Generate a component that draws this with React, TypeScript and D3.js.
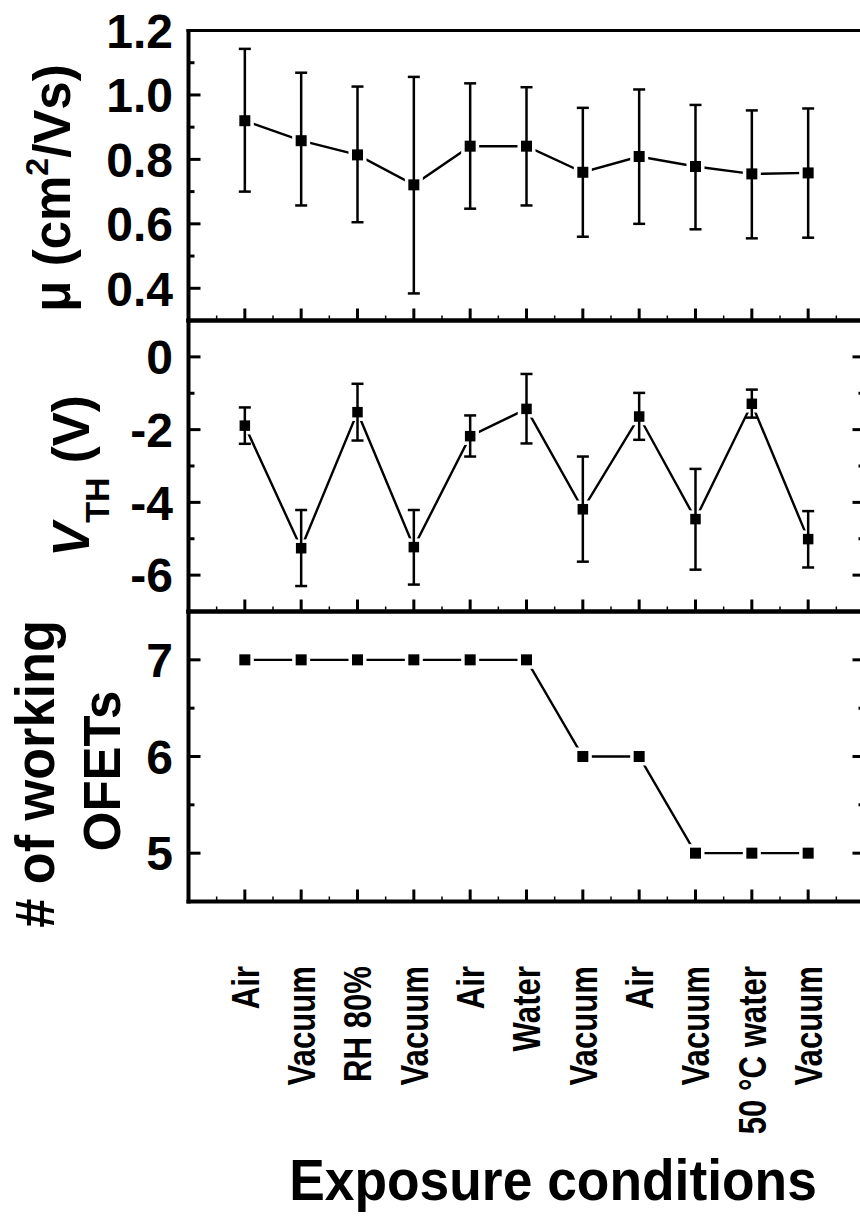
import React from "react";
import * as d3 from "d3";

const conditions = ["Air", "Vacuum", "RH 80%", "Vacuum", "Air", "Water", "Vacuum", "Air", "Vacuum", "50 °C water", "Vacuum"];

const mobility = [0.92, 0.858, 0.814, 0.721, 0.841, 0.841, 0.76, 0.809, 0.778, 0.755, 0.758];
const mobilityHigh = [1.143, 1.069, 1.026, 1.056, 1.036, 1.024, 0.96, 1.017, 0.969, 0.952, 0.958];
const mobilityLow = [0.7, 0.657, 0.605, 0.384, 0.647, 0.657, 0.56, 0.6, 0.583, 0.555, 0.557];

const vth = [-1.89, -5.26, -1.52, -5.23, -2.18, -1.43, -4.19, -1.64, -4.46, -1.29, -5.01];
const vthHigh = [-1.39, -4.21, -0.74, -4.21, -1.61, -0.47, -2.74, -0.99, -3.08, -0.9, -4.24];
const vthLow = [-2.39, -6.3, -2.3, -6.26, -2.74, -2.38, -5.63, -2.28, -5.85, -1.67, -5.79];

const working = [7, 7, 7, 7, 7, 7, 6, 6, 5, 5, 5];

const muTicks = [0.4, 0.6, 0.8, 1.0, 1.2];
const muMinor = [0.5, 0.7, 0.9, 1.1];
const vthTicks = [0, -2, -4, -6];
const vthMinor = [-1, -3, -5];
const wTicks = [5, 6, 7];
const wMinor = [5.5, 6.5];

const FONT = "'Liberation Sans', Arial, Helvetica, sans-serif";

const x = d3.scaleLinear().domain([0, 12]).range([188.5, 864.5]);
const yMu = d3.scaleLinear().domain([0.3, 1.2]).range([320.5, 30.5]);
const yV = d3.scaleLinear().domain([-7, 1]).range([611.5, 320.5]);
const yW = d3.scaleLinear().domain([4.5, 7.5]).range([901.5, 611.5]);

const idx = conditions.map((_, i) => i + 1);
const majorX = d3.range(1, 12);
const minorX = d3.range(0.5, 12, 1);

type PanelProps = {
  y: d3.ScaleLinear<number, number>;
  ticks: number[];
  minor: number[];
  fmt: (v: number) => string;
  rightTicks: boolean;
  topWidth: number;
};

function Frame({ y, ticks, minor, fmt, rightTicks, topWidth }: PanelProps) {
  const [y0, y1] = y.range();
  const xl = x.range()[0];
  const xr = x.range()[1];
  return (
    <g>
      <line x1={xl - 2} x2={xr} y1={y1} y2={y1} stroke="#000" strokeWidth={topWidth} />
      <line x1={xl - 2} x2={xr + 2} y1={y0} y2={y0} stroke="#000" strokeWidth={4} />
      <line x1={xl} x2={xl} y1={y1 - 1.5} y2={y0 + 2} stroke="#000" strokeWidth={4} />
      <line x1={xr} x2={xr} y1={y1} y2={y0} stroke="#000" strokeWidth={4} />
      {majorX.map((t) => (
        <line key={"mx" + t} x1={x(t)} x2={x(t)} y1={y0} y2={y0 - 12} stroke="#000" strokeWidth={3} />
      ))}
      {minorX.map((t) => (
        <line key={"nx" + t} x1={x(t)} x2={x(t)} y1={y0} y2={y0 - 5} stroke="#000" strokeWidth={1.5} />
      ))}
      {ticks.map((t) => (
        <g key={"t" + t}>
          <line x1={xl} x2={xl + 12} y1={y(t)} y2={y(t)} stroke="#000" strokeWidth={3} />
          {rightTicks && <line x1={xr} x2={xr - 12} y1={y(t)} y2={y(t)} stroke="#000" strokeWidth={3} />}
          <text x={173} y={y(t)} dy="0.36em" textAnchor="end" fontFamily={FONT} fontWeight="bold" fontSize={48} fill="#000">
            {fmt(t)}
          </text>
        </g>
      ))}
      {minor.map((t) => (
        <g key={"n" + t}>
          <line x1={xl} x2={xl + 6} y1={y(t)} y2={y(t)} stroke="#000" strokeWidth={3} />
          {rightTicks && <line x1={xr} x2={xr - 6} y1={y(t)} y2={y(t)} stroke="#000" strokeWidth={3} />}
        </g>
      ))}
    </g>
  );
}

function Series({ y, values, hi, lo, size }: { y: d3.ScaleLinear<number, number>; values: number[]; hi?: number[]; lo?: number[]; size: number }) {
  const line = d3
    .line<number>()
    .x((_, i) => x(idx[i]))
    .y((v) => y(v));
  const halo = size + 7;
  return (
    <g>
      <path d={line(values) || ""} fill="none" stroke="#000" strokeWidth={2.4} />
      {values.map((v, i) => (
        <rect key={"h" + i} x={x(idx[i]) - halo / 2} y={y(v) - halo / 2} width={halo} height={halo} fill="#fff" />
      ))}
      {hi &&
        lo &&
        values.map((_, i) => (
          <g key={"e" + i} stroke="#000" strokeWidth={2.5}>
            <line x1={x(idx[i])} x2={x(idx[i])} y1={y(hi[i])} y2={y(lo[i])} />
            <line x1={x(idx[i]) - 6} x2={x(idx[i]) + 6} y1={y(hi[i])} y2={y(hi[i])} />
            <line x1={x(idx[i]) - 6} x2={x(idx[i]) + 6} y1={y(lo[i])} y2={y(lo[i])} />
          </g>
        ))}
      {values.map((v, i) => (
        <rect key={"m" + i} x={x(idx[i]) - size / 2} y={y(v) - size / 2} width={size} height={size} fill="#000" />
      ))}
    </g>
  );
}

export default function App() {
  return (
    <svg width={860} height={1217} style={{ position: "absolute", left: 0, top: 0, background: "#fff" }}>
      <rect x={0} y={0} width={860} height={1217} fill="#fff" />
      <Series y={yMu} values={mobility} hi={mobilityHigh} lo={mobilityLow} size={11} />
      <Series y={yV} values={vth} hi={vthHigh} lo={vthLow} size={10.5} />
      <Series y={yW} values={working} size={11} />
      <Frame y={yMu} ticks={muTicks} minor={muMinor} fmt={d3.format(".1f")} rightTicks={false} topWidth={3} />
      <Frame y={yV} ticks={vthTicks} minor={vthMinor} fmt={(v) => String(v)} rightTicks={true} topWidth={4} />
      <Frame y={yW} ticks={wTicks} minor={wMinor} fmt={(v) => String(v)} rightTicks={true} topWidth={4} />

      {/* y-axis titles */}
      <text transform="translate(70,188) rotate(-90)" textAnchor="middle" fontFamily={FONT} fontWeight="bold" fontSize={51} fill="#000">
        μ (cm
        <tspan fontSize={32} dy={-22}>2</tspan>
        <tspan dy={22}>/Vs)</tspan>
      </text>
      <text transform="translate(89,476) rotate(-90)" textAnchor="middle" fontFamily={FONT} fontWeight="bold" fontSize={51} fill="#000">
        <tspan fontStyle="italic">V</tspan>
        <tspan fontSize={34} dy={20}>TH</tspan>
        <tspan dy={-20}> (V)</tspan>
      </text>
      <text transform="translate(54,774) rotate(-90) scale(0.95,1)" textAnchor="middle" fontFamily={FONT} fontWeight="bold" fontSize={55} fill="#000">
        # of working
      </text>
      <text transform="translate(120,771) rotate(-90)" textAnchor="middle" fontFamily={FONT} fontWeight="bold" fontSize={51} fill="#000">
        OFETs
      </text>

      {/* x labels */}
      {conditions.map((c, i) => (
        <text
          key={"xl" + i}
          transform={`translate(${x(idx[i])},966) rotate(-90) scale(0.82,1)`}
          dy="0.36em"
          textAnchor="end"
          fontFamily={FONT}
          fontWeight="bold"
          fontSize={38}
          fill="#000"
        >
          {c}
        </text>
      ))}
      <text transform="translate(553,1200) scale(0.92,1)" textAnchor="middle" fontFamily={FONT} fontWeight="bold" fontSize={58} fill="#000">
        Exposure conditions
      </text>
    </svg>
  );
}
